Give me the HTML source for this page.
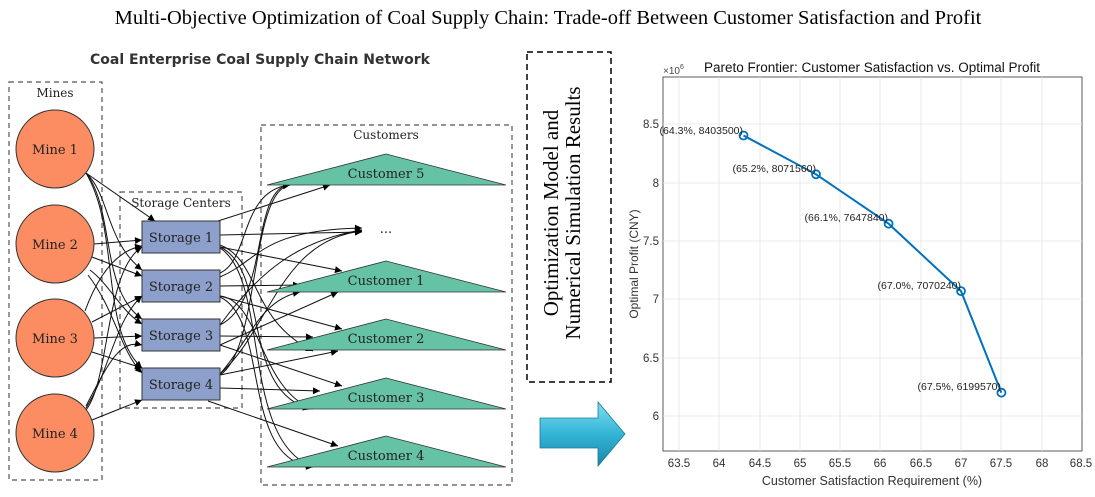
<!DOCTYPE html>
<html><head><meta charset="utf-8"><style>
html,body{margin:0;padding:0;background:#fff;}
svg{display:block;}
</style></head><body>
<svg width="1095" height="497" viewBox="0 0 1095 497" xmlns="http://www.w3.org/2000/svg">
<defs>
<marker id="ah" viewBox="0 0 10 10" refX="10" refY="5" markerWidth="8" markerHeight="7" orient="auto" markerUnits="userSpaceOnUse"><path d="M0,0 L10,5 L0,10 z" fill="#000"/></marker>
<linearGradient id="ag" x1="0" y1="0" x2="0" y2="1"><stop offset="0" stop-color="#7fdcf0"/><stop offset="0.5" stop-color="#33b5d6"/><stop offset="1" stop-color="#1a86a8"/></linearGradient>
</defs>
<text x="548" y="24" text-anchor="middle" font-family="Liberation Serif, serif" font-size="20.5">Multi-Objective Optimization of Coal Supply Chain: Trade-off Between Customer Satisfaction and Profit</text>

<text x="260" y="64" text-anchor="middle" font-family="DejaVu Sans, sans-serif" font-weight="bold" font-size="14" fill="#333">Coal Enterprise Coal Supply Chain Network</text>
<g fill="none" stroke="#555" stroke-dasharray="5,4" stroke-width="1.2">
<rect x="9" y="82" width="93" height="398"/>
<rect x="120" y="192" width="122" height="216"/>
<rect x="261" y="125" width="251" height="360"/>
</g>
<g font-family="DejaVu Serif, serif" font-size="12" fill="#222" text-anchor="middle">
<text x="55" y="97">Mines</text>
<text x="181" y="207">Storage Centers</text>
<text x="386" y="139">Customers</text>
</g>
<g stroke="#111" stroke-width="1" fill="none" marker-end="url(#ah)">
<line x1="86" y1="173" x2="155" y2="221"/>
<path d="M86,173 C110,195 105,240 142,270"/>
<path d="M86,173 C115,210 100,290 142,319"/>
<path d="M86,173 C120,230 100,330 142,368"/>
<line x1="94" y1="244" x2="142" y2="240"/>
<line x1="92" y1="257" x2="142" y2="276"/>
<path d="M90,270 C110,285 120,310 142,324"/>
<path d="M88,275 C115,310 120,350 142,373"/>
<path d="M85,311 C100,270 120,250 142,246"/>
<line x1="92" y1="322" x2="142" y2="296"/>
<line x1="94" y1="338" x2="142" y2="336"/>
<line x1="92" y1="352" x2="142" y2="368"/>
<path d="M86,410 C110,380 105,270 142,247"/>
<path d="M86,408 C110,370 115,320 142,296"/>
<path d="M86,406 C110,360 120,340 142,345"/>
<line x1="92" y1="420" x2="142" y2="400"/>
<line x1="218" y1="221" x2="330" y2="185"/>
<line x1="220" y1="235" x2="362" y2="232"/>
<line x1="220" y1="247" x2="342" y2="271"/>
<path d="M220,245 C260,260 250,320 313,351"/>
<path d="M220,247 C270,270 240,390 310,409"/>
<path d="M220,248 C270,280 240,440 313,467"/>
<line x1="220" y1="286" x2="300" y2="285"/>
<path d="M220,273 C250,260 240,190 290,185"/>
<path d="M220,277 C260,260 260,230 362,228"/>
<line x1="220" y1="296" x2="342" y2="329"/>
<path d="M220,296 C260,300 260,390 313,409"/>
<path d="M220,297 C270,320 240,460 313,467"/>
<path d="M220,325 C270,300 250,190 290,184"/>
<path d="M220,325 C260,270 300,240 362,230"/>
<line x1="220" y1="336" x2="313" y2="337"/>
<line x1="220" y1="345" x2="342" y2="386"/>
<line x1="220" y1="345" x2="338" y2="292"/>
<path d="M220,375 C260,350 250,190 290,185"/>
<path d="M220,374 C270,330 280,240 362,231"/>
<path d="M220,374 C250,340 260,300 300,292"/>
<line x1="220" y1="375" x2="338" y2="351"/>
<line x1="220" y1="388" x2="320" y2="391"/>
<line x1="208" y1="401" x2="338" y2="446"/>
</g>
<g fill="#fc8d62" stroke="#333" stroke-width="1">
<circle cx="55" cy="149" r="39"/><circle cx="55" cy="244" r="39"/>
<circle cx="55" cy="338" r="39"/><circle cx="55" cy="433" r="39"/>
</g>
<g fill="#8da0cb" stroke="#333" stroke-width="1">
<rect x="142" y="221" width="78" height="32"/><rect x="142" y="270" width="78" height="32"/>
<rect x="142" y="319" width="78" height="32"/><rect x="142" y="368" width="78" height="32"/>
</g>
<g fill="#66c2a5" stroke="#333" stroke-width="0.8">
<polygon points="267,185 386,154 506,185"/>
<polygon points="267,292 386,261 506,292"/>
<polygon points="267,350 386,319 506,350"/>
<polygon points="267,409 386,378 506,409"/>
<polygon points="267,467 386,436 506,467"/>
</g>
<g font-family="DejaVu Serif, serif" font-size="13" fill="#222" text-anchor="middle">
<text x="55" y="154">Mine 1</text><text x="55" y="249">Mine 2</text>
<text x="55" y="343">Mine 3</text><text x="55" y="438">Mine 4</text>
<text x="181" y="242">Storage 1</text><text x="181" y="291">Storage 2</text>
<text x="181" y="340">Storage 3</text><text x="181" y="389">Storage 4</text>
<text x="386" y="178">Customer 5</text><text x="386" y="285">Customer 1</text>
<text x="386" y="343">Customer 2</text><text x="386" y="402">Customer 3</text>
<text x="386" y="460">Customer 4</text>
<text x="386" y="233">...</text>
</g>

<rect x="527" y="52" width="84" height="330" fill="none" stroke="#000" stroke-width="1.5" stroke-dasharray="6,4"/>
<g font-family="Liberation Serif, serif" font-size="21" fill="#000" text-anchor="middle">
<text transform="translate(558,213) rotate(-90)">Optimization Model and</text>
<text transform="translate(580,213) rotate(-90)">Numerical Simulation Results</text>
</g>
<polygon points="540,418 598,418 598,402 625,434 598,466 598,448 540,448" fill="url(#ag)" stroke="#1a7c99" stroke-width="0.8"/>

<rect x="663" y="77" width="419" height="374" fill="#fff" stroke="#333" stroke-width="0.8"/>
<g stroke="#e4e4e4" stroke-width="0.8">
<line x1="679" y1="77" x2="679" y2="451"/><line x1="719" y1="77" x2="719" y2="451"/>
<line x1="760" y1="77" x2="760" y2="451"/><line x1="800" y1="77" x2="800" y2="451"/>
<line x1="840" y1="77" x2="840" y2="451"/><line x1="880" y1="77" x2="880" y2="451"/>
<line x1="921" y1="77" x2="921" y2="451"/><line x1="961" y1="77" x2="961" y2="451"/>
<line x1="1001" y1="77" x2="1001" y2="451"/><line x1="1042" y1="77" x2="1042" y2="451"/>
<line x1="663" y1="124" x2="1082" y2="124"/><line x1="663" y1="183" x2="1082" y2="183"/>
<line x1="663" y1="241" x2="1082" y2="241"/><line x1="663" y1="299" x2="1082" y2="299"/>
<line x1="663" y1="358" x2="1082" y2="358"/><line x1="663" y1="416" x2="1082" y2="416"/>
</g>
<g font-family="Liberation Sans, sans-serif" font-size="11.5" fill="#333" text-anchor="middle">
<text x="679" y="467">63.5</text><text x="719" y="467">64</text><text x="760" y="467">64.5</text>
<text x="800" y="467">65</text><text x="840" y="467">65.5</text><text x="880" y="467">66</text>
<text x="921" y="467">66.5</text><text x="961" y="467">67</text><text x="1001" y="467">67.5</text>
<text x="1042" y="467">68</text><text x="1081" y="467">68.5</text>
</g>
<g font-family="Liberation Sans, sans-serif" font-size="11.5" fill="#333" text-anchor="end">
<text x="659" y="128">8.5</text><text x="659" y="187">8</text><text x="659" y="245">7.5</text>
<text x="659" y="303">7</text><text x="659" y="362">6.5</text><text x="659" y="420">6</text>
</g>
<text x="663" y="74" font-family="Liberation Sans, sans-serif" font-size="10" fill="#444">×10<tspan dy="-5" font-size="7">6</tspan></text>
<text x="872" y="72" text-anchor="middle" font-family="Liberation Sans, sans-serif" font-size="13.5" fill="#111">Pareto Frontier: Customer Satisfaction vs. Optimal Profit</text>
<text x="872" y="485" text-anchor="middle" font-family="Liberation Sans, sans-serif" font-size="12.5" fill="#333">Customer Satisfaction Requirement (%)</text>
<text transform="translate(638,264) rotate(-90)" text-anchor="middle" font-family="Liberation Sans, sans-serif" font-size="12" fill="#333">Optimal Profit (CNY)</text>
<polyline points="743.5,135.5 816,174.3 888.6,223.7 961,291.1 1001.4,392.7" fill="none" stroke="#0072bd" stroke-width="2"/>
<g fill="none" stroke="#0072bd" stroke-width="1.8">
<circle cx="743.5" cy="135.5" r="4"/><circle cx="816" cy="174.3" r="4"/>
<circle cx="888.6" cy="223.7" r="4"/><circle cx="961" cy="291.1" r="4"/>
<circle cx="1001.4" cy="392.7" r="4"/>
</g>
<g font-family="Liberation Sans, sans-serif" font-size="10.5" fill="#222" text-anchor="end">
<text x="743" y="134">(64.3%, 8403500)</text>
<text x="816" y="172">(65.2%, 8071560)</text>
<text x="888" y="221">(66.1%, 7647840)</text>
<text x="961" y="289">(67.0%, 7070240)</text>
<text x="1001" y="390">(67.5%, 6199570)</text>
</g>
</svg>
</body></html>
